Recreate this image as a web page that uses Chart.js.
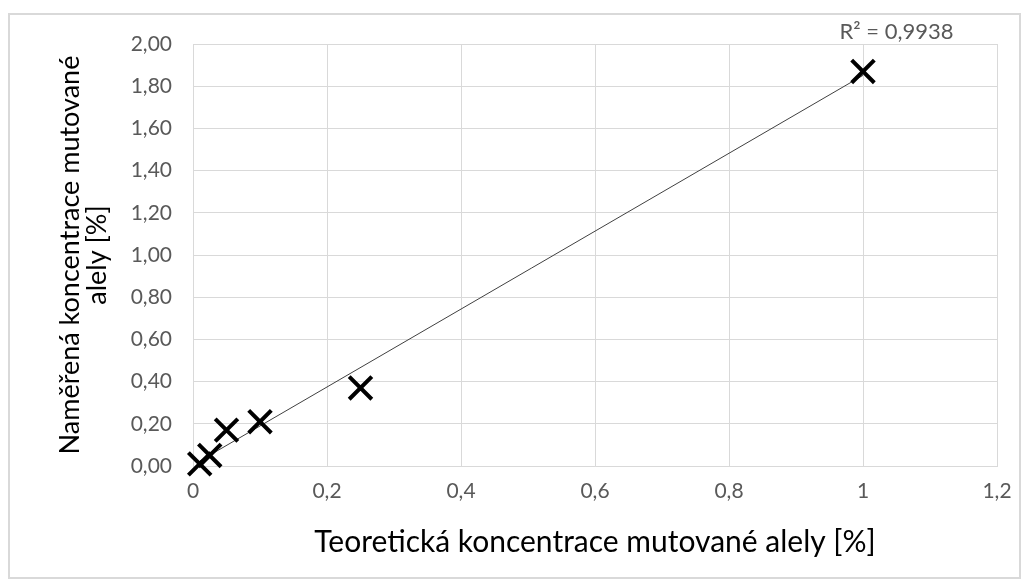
<!DOCTYPE html>
<html>
<head>
<meta charset="utf-8">
<script src="https://cdn.jsdelivr.net/npm/chart.js@4/dist/chart.umd.min.js"></script>
<style>
  html, body { margin: 0; padding: 0; background: #fff; }
  #wrap { position: absolute; left: 8px; top: 13px; width: 1009px; height: 562px; border: 2px solid #d9d9d9; }
  #c { position: absolute; left: 0; top: 0; }
</style>
</head>
<body>
<div id="wrap"></div>
<canvas id="c" width="1027" height="585"></canvas>
<script>
// teoretická vs. naměřená koncentrace
const theoretical = [0.01, 0.025, 0.05, 0.1, 0.25, 1];
const measured = [0.01, 0.05, 0.17, 0.21, 0.37, 1.87];
const xTickLabels = ['0', '0,2', '0,4', '0,6', '0,8', '1', '1,2'];
const yTickLabels = ['0,00', '0,20', '0,40', '0,60', '0,80', '1,00', '1,20', '1,40', '1,60', '1,80', '2,00'];
const r2Label = 'R² = 0,9938';

// linear trendline (least squares), like Excel
const n = theoretical.length;
const mx = theoretical.reduce((a, b) => a + b, 0) / n;
const my = measured.reduce((a, b) => a + b, 0) / n;
let sxy = 0, sxx = 0;
for (let i = 0; i < n; i++) {
  sxy += (theoretical[i] - mx) * (measured[i] - my);
  sxx += (theoretical[i] - mx) ** 2;
}
const slope = sxy / sxx;
const intercept = my - slope * mx;
const xMin = Math.min(...theoretical), xMax = Math.max(...theoretical);
const trend = [
  { x: xMin, y: intercept + slope * xMin },
  { x: xMax, y: intercept + slope * xMax }
];

const FONT = 'Lato, "Open Sans", sans-serif';

const r2Plugin = {
  id: 'r2',
  afterDraw(chart) {
    const ctx = chart.ctx;
    const xs = chart.scales.x;
    ctx.save();
    ctx.font = '22px ' + FONT;
    ctx.fillStyle = '#595959';
    ctx.textAlign = 'center';
    ctx.textBaseline = 'middle';
    ctx.fillText(r2Label, xs.getPixelForValue(1.05), chart.chartArea.top - 12);
    ctx.restore();
  }
};

new Chart(document.getElementById('c'), {
  type: 'scatter',
  data: {
    datasets: [
      {
        label: 'data',
        data: theoretical.map((x, i) => ({ x: x, y: measured[i] })),
        pointStyle: 'crossRot',
        pointRadius: 16,
        pointBorderWidth: 4,
        borderColor: '#000',
        backgroundColor: '#000',
        clip: false,
        order: 1
      },
      {
        label: 'trend',
        type: 'line',
        data: trend,
        borderColor: '#404040',
        borderWidth: 1,
        pointRadius: 0,
        fill: false,
        order: 2
      }
    ]
  },
  plugins: [r2Plugin],
  options: {
    responsive: false,
    animation: false,
    layout: { padding: { left: 50, top: 44, right: 30, bottom: 22 } },
    plugins: { legend: { display: false }, tooltip: { enabled: false } },
    scales: {
      x: {
        type: 'linear',
        min: 0, max: 1.2,
        afterBuildTicks(scale) {
          scale.ticks = xTickLabels.map((_, i) => ({ value: i * 0.2 }));
        },
        ticks: {
          callback: (v, i) => xTickLabels[i],
          color: '#595959',
          font: { family: FONT, size: 21 },
          padding: 13,
          maxRotation: 0
        },
        grid: { color: '#d9d9d9', drawTicks: false },
        border: { color: '#d9d9d9' },
        title: {
          display: true,
          text: 'Teoretická koncentrace mutované alely [%]',
          color: '#000',
          font: { family: FONT, size: 30 },
          padding: { top: 10, bottom: 3 }
        },
        afterFit(scale) { scale.height = 585 - 466 - 22; }
      },
      y: {
        type: 'linear',
        min: 0, max: 2,
        afterBuildTicks(scale) {
          scale.ticks = yTickLabels.map((_, i) => ({ value: i * 0.2 }));
        },
        ticks: {
          callback: (v, i) => yTickLabels[i],
          color: '#595959',
          font: { family: FONT, size: 21 },
          padding: 21
        },
        grid: { color: '#d9d9d9', drawTicks: false },
        border: { color: '#d9d9d9' },
        title: {
          display: true,
          text: ['Naměřená koncentrace mutované', 'alely [%]'],
          color: '#000',
          font: { family: FONT, size: 27, lineHeight: 1.0 },
          padding: { top: 7, bottom: 0 }
        },
        afterFit(scale) { scale.width = 193 - 50; }
      }
    }
  }
});
</script>
</body>
</html>
